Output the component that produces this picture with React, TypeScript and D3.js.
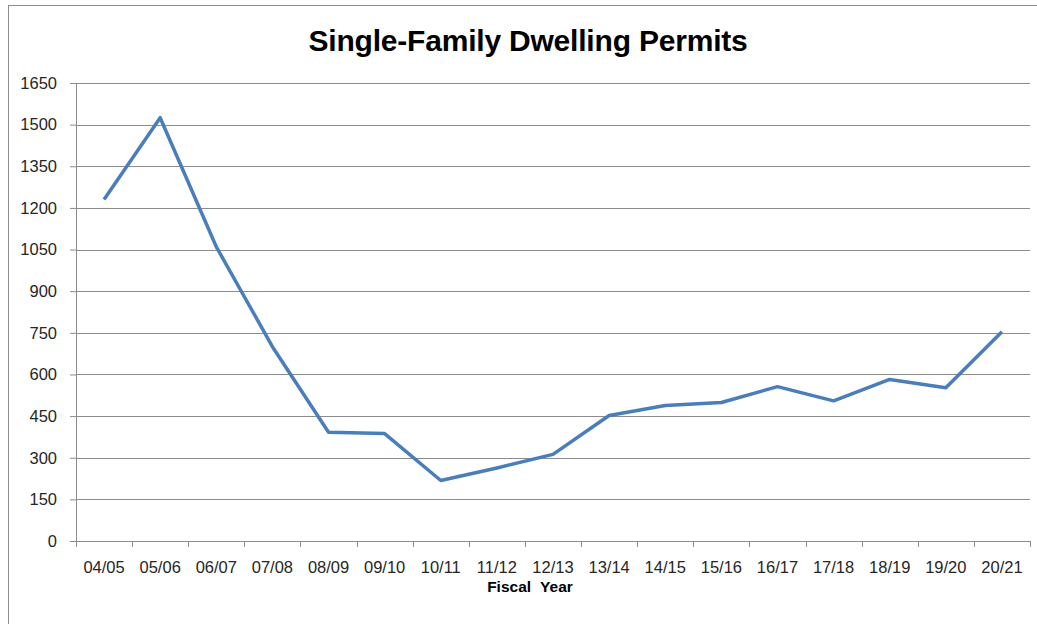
import { useEffect, useRef } from 'react';
import * as d3 from 'd3';

const years = [
  '04/05', '05/06', '06/07', '07/08', '08/09', '09/10', '10/11', '11/12', '12/13',
  '13/14', '14/15', '15/16', '16/17', '17/18', '18/19', '19/20', '20/21',
];
const permits = [1230, 1525, 1060, 700, 392, 387, 218, 263, 312, 452, 488, 499, 556, 505, 582, 552, 754];
const yTicks = [0, 150, 300, 450, 600, 750, 900, 1050, 1200, 1350, 1500, 1650];

const W = 1037;
const H = 624;

export default function App() {
  const svgRef = useRef<SVGSVGElement>(null);

  useEffect(() => {
    document.body.style.margin = '0';
    if (!svgRef.current) return;
    const svg = d3.select(svgRef.current);
    svg.selectAll('*').remove();

    const margin = { top: 83, right: 7, bottom: 83, left: 76 };
    const innerW = W - margin.left - margin.right;
    const innerH = H - margin.top - margin.bottom;

    // chart frame
    svg.append('rect')
      .attr('x', 8.5).attr('y', 5.5)
      .attr('width', W + 20).attr('height', H + 20)
      .attr('fill', '#fff').attr('stroke', '#8c8c8c');

    svg.append('text')
      .attr('x', 528).attr('y', 51)
      .attr('text-anchor', 'middle')
      .attr('font-family', 'Liberation Sans, Arial, sans-serif')
      .attr('font-weight', 'bold')
      .attr('font-size', 30)
      .attr('letter-spacing', -0.2)
      .attr('fill', '#000')
      .text('Single-Family Dwelling Permits');

    const g = svg.append('g').attr('transform', `translate(${margin.left},${margin.top})`);

    const x = d3.scaleBand().domain(years).range([0, innerW]);
    const y = d3.scaleLinear().domain([0, 1650]).range([innerH, 0]);

    // gridlines
    g.append('g')
      .selectAll('line')
      .data(yTicks.filter((t) => t > 0))
      .enter()
      .append('line')
      .attr('x1', 0).attr('x2', innerW)
      .attr('y1', (d) => Math.round(y(d)) + 0.5)
      .attr('y2', (d) => Math.round(y(d)) + 0.5)
      .attr('stroke', '#8c8c8c')
      .attr('stroke-width', 1);

    // y axis
    g.append('g')
      .call(d3.axisLeft(y).tickValues(yTicks).tickSize(6).tickPadding(13).tickFormat(d3.format('d')))
      .call((a) => a.select('.domain').attr('stroke', '#8c8c8c'))
      .call((a) => a.selectAll('.tick line').attr('stroke', '#8c8c8c'))
      .call((a) =>
        a.selectAll('.tick text')
          .attr('fill', '#262626')
          .attr('font-size', 16.5)
          .attr('font-family', 'Liberation Sans, Arial, sans-serif')
      );

    // x axis, ticks sit on category boundaries
    const xa = g.append('g').attr('transform', `translate(0,${innerH})`);
    xa.append('line')
      .attr('x1', 0).attr('x2', innerW)
      .attr('y1', 0.5).attr('y2', 0.5)
      .attr('stroke', '#8c8c8c');
    xa.selectAll('.xt')
      .data(d3.range(years.length + 1))
      .enter()
      .append('line')
      .attr('class', 'xt')
      .attr('x1', (i) => Math.round(i * x.step()) + 0.5)
      .attr('x2', (i) => Math.round(i * x.step()) + 0.5)
      .attr('y1', 0).attr('y2', 6)
      .attr('stroke', '#8c8c8c');
    xa.selectAll('.xl')
      .data(years)
      .enter()
      .append('text')
      .attr('class', 'xl')
      .attr('x', (d) => (x(d) || 0) + x.bandwidth() / 2)
      .attr('y', 32)
      .attr('text-anchor', 'middle')
      .attr('fill', '#262626')
      .attr('font-size', 16.5)
      .attr('font-family', 'Liberation Sans, Arial, sans-serif')
      .text((d) => d);

    svg.append('text')
      .attr('x', 530).attr('y', 592)
      .attr('text-anchor', 'middle')
      .attr('font-family', 'Liberation Sans, Arial, sans-serif')
      .attr('font-weight', 'bold')
      .attr('font-size', 15.5)
      .attr('fill', '#000')
      .attr('word-spacing', 5)
      .text('Fiscal Year');

    const line = d3.line<number>()
      .x((_, i) => (x(years[i]) || 0) + x.bandwidth() / 2)
      .y((d) => y(d));

    g.append('path')
      .datum(permits)
      .attr('fill', 'none')
      .attr('stroke', '#4a7ebb')
      .attr('stroke-width', 3.5)
      .attr('stroke-linejoin', 'round')
      .attr('d', line);
  }, []);

  return <svg ref={svgRef} width={W} height={H} style={{ display: 'block' }} />;
}
